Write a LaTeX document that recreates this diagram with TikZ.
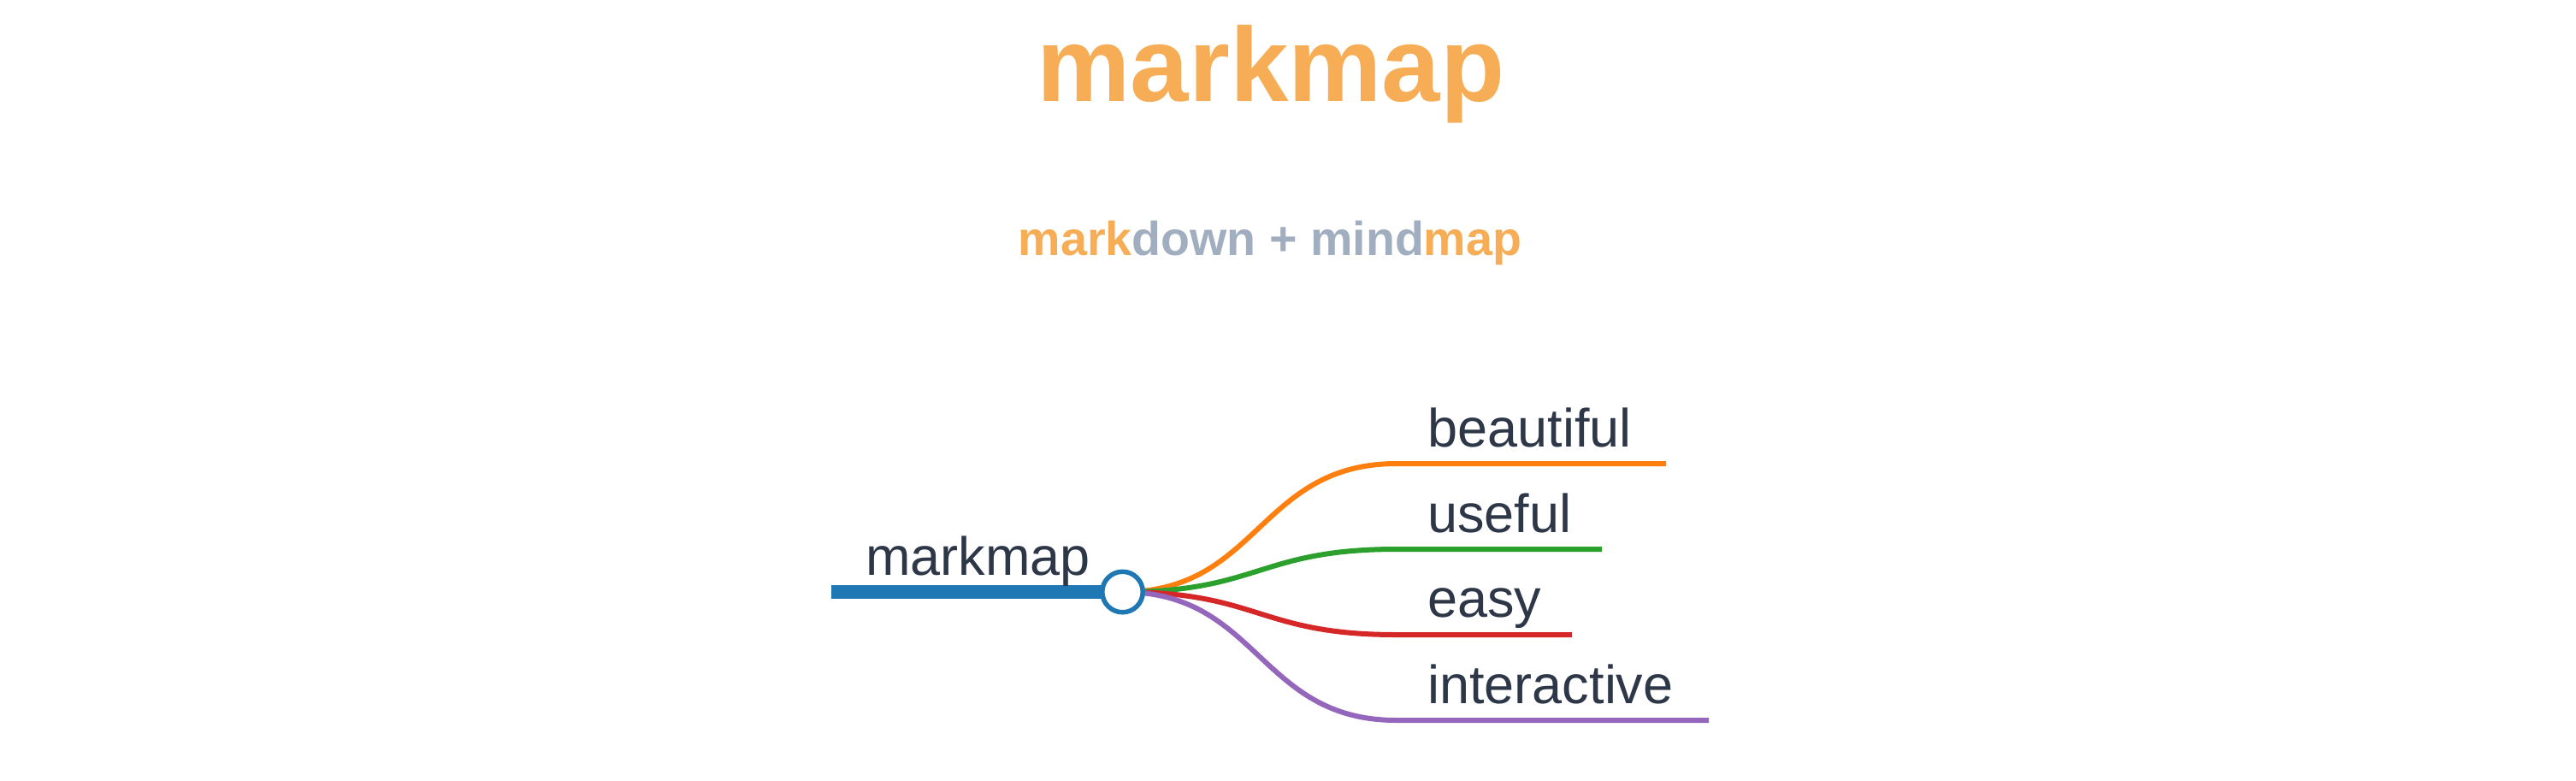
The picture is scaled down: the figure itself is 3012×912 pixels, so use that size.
\documentclass[tikz,border=0pt]{standalone}
\usepackage{fontspec}
\setmainfont{Liberation Sans}
\definecolor{mkorange}{HTML}{F6AD55}
\definecolor{mkgray}{HTML}{A0AEC0}
\definecolor{mktext}{HTML}{2D3748}
\definecolor{mblue}{HTML}{1F77B4}
\definecolor{morange}{HTML}{FF7F0E}
\definecolor{mgreen}{HTML}{2CA02C}
\definecolor{mred}{HTML}{D62728}
\definecolor{mpurple}{HTML}{9467BD}
\begin{document}
\begin{tikzpicture}[x=0.5pt,y=-0.5pt,
  titletext/.style={anchor=base,inner sep=0pt,text=mkorange,font=\fontsize{61.5pt}{70pt}\selectfont\bfseries},
  subtext/.style={anchor=base,inner sep=0pt,font=\fontsize{27.8pt}{32pt}\selectfont\bfseries},
  label/.style={anchor=base west,inner sep=0pt,text=mktext,font=\fontsize{31.5pt}{36pt}\selectfont},
  rootline/.style={draw=mblue,line width=8pt},
  branch/.style={line width=3pt},
  knob/.style={circle,draw=mblue,fill=white,line width=2.75pt,minimum size=23.75pt,inner sep=0pt}]
\useasboundingbox (0,0) rectangle (3012,912);
% titles
\node[titletext] (title) at (1486,118) {markmap};
\node[subtext] (subtitle) at (1485,298) {\textcolor{mkorange}{mark}\textcolor{mkgray}{down + mind}\textcolor{mkorange}{map}};
% points
\coordinate (r0) at (972,692);
\coordinate (cc) at (1312.5,692);
\coordinate (b1s) at (1633,542);  \coordinate (b1e) at (1948,542);
\coordinate (b2s) at (1633,642);  \coordinate (b2e) at (1873,642);
\coordinate (b3s) at (1633,742);  \coordinate (b3e) at (1838,742);
\coordinate (b4s) at (1633,842);  \coordinate (b4e) at (1998,842);
% links
\draw[branch,draw=morange] (cc) .. controls (1472,692) and (1472,542) .. (b1s) -- (b1e);
\draw[branch,draw=mgreen] (cc) .. controls (1472,692) and (1472,642) .. (b2s) -- (b2e);
\draw[branch,draw=mred] (cc) .. controls (1472,692) and (1472,742) .. (b3s) -- (b3e);
\draw[branch,draw=mpurple] (cc) .. controls (1472,692) and (1472,842) .. (b4s) -- (b4e);
% root
\draw[rootline] (r0) -- (cc);
\node[knob] (c) at (cc) {};
% labels
\node[label] (root) at (1012,672) {markmap};
\node[label] (l1) at (1669,522) {beautiful};
\node[label] (l2) at (1669,622) {useful};
\node[label] (l3) at (1669,721) {easy};
\node[label] (l4) at (1669,822) {interactive};
\end{tikzpicture}
\end{document}
